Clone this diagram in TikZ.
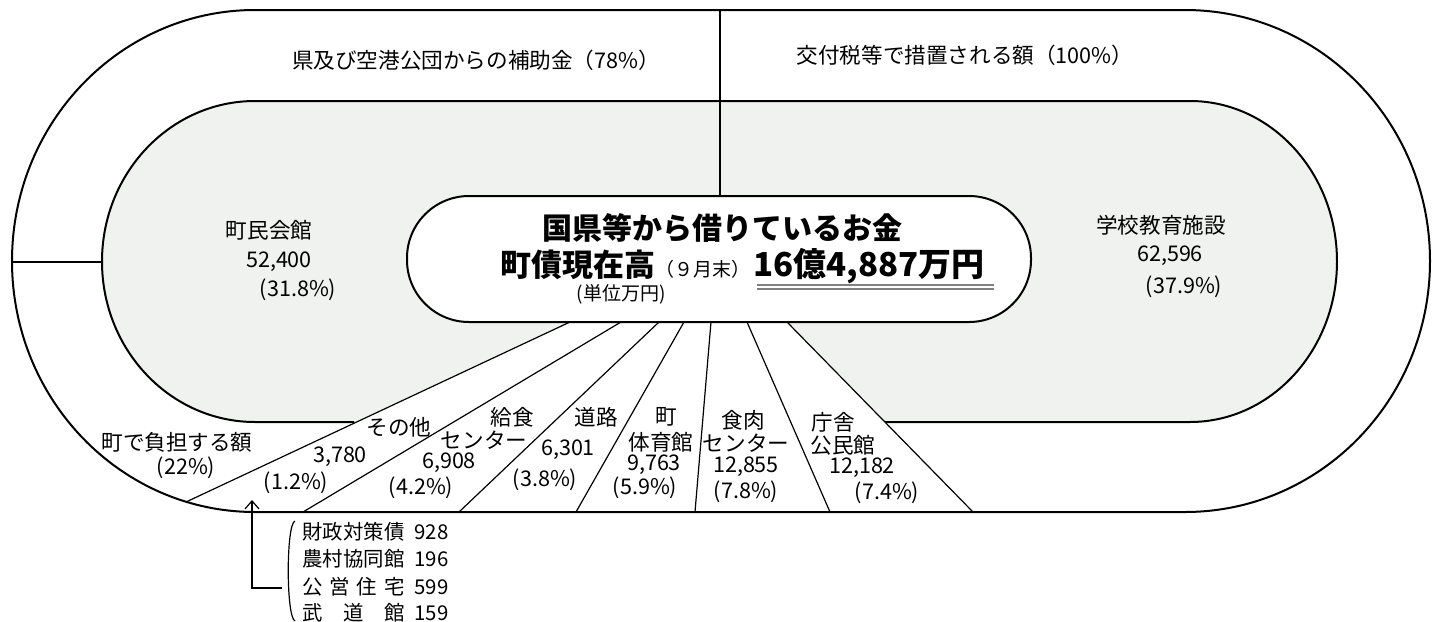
\documentclass[tikz,border=0pt]{standalone}
\usepackage{fontspec}
\setmainfont{Noto Sans CJK JP}
\usetikzlibrary{arrows.meta}
\definecolor{trackgrey}{RGB}{240,242,239}
\tikzset{
    lbl/.style={font=\fontsize{10.8}{13}\selectfont, inner sep=0pt},
    row/.style={font=\fontsize{10.2}{12}\selectfont, inner sep=0pt, anchor=west},
    ring/.style={line width=1pt},
    cut/.style={line width=0.6pt}
}

\begin{document}
\begin{tikzpicture}[x=0.5pt,y=-0.5pt]
    \useasboundingbox (0,0) rectangle (1448,622);
    % shaded inner track
    \fill[trackgrey] (255,101) -- (1190,101) arc[start angle=270,end angle=450,x radius=147,y radius=160.5]
        -- (255,422) arc[start angle=90,end angle=270,x radius=153,y radius=160.5] -- cycle;
    \fill[white] (570,322) -- (186,502) -- (973,512) -- (787,322) -- cycle;
    \draw[ring,fill=white,rounded corners=31pt] (407,196) rectangle (1031,322);
    \draw[ring] (354,422) -- (255,422) arc[start angle=90,end angle=270,x radius=153,y radius=160.5]
        -- (1190,101) arc[start angle=270,end angle=450,x radius=147,y radius=160.5] -- (885,422);
    % outer track
    \draw[ring] (255,10) -- (1185,10) arc[start angle=270,end angle=450,x radius=245,y radius=251]
        -- (255,512) arc[start angle=90,end angle=270,x radius=243,y radius=251] -- cycle;
    \draw[cut] (720,10) -- (720,196);
    \draw[cut] (12,262) -- (102,262);
    \foreach \a/\b/\c in {570/186/502, 621/303/512, 659/459/512, 684/576/512, 711/695/512, 747/830/512, 787/973/512}
    \draw[cut] (\a,322) -- (\b,\c);

    \node[lbl] (K) at (476,60) {県及び空港公団からの補助金（78\%）};
    \node[lbl] (F) at (965,55) {交付税等で措置される額（100\%）};
    \node[font=\fontsize{15}{18}\selectfont\bfseries, inner sep=0pt] (T) at (722,228) {国県等から借りているお金};
    \node[font=\fontsize{15.5}{18}\selectfont\bfseries, inner sep=0pt, anchor=base east] (D)
        at (751,276) {町債現在高{\fontsize{9.5}{12}\selectfont\mdseries （９月末）}};
    \node[font=\fontsize{16.5}{18}\selectfont\bfseries, inner sep=0pt, anchor=base west] (A) at (753,276) {16億4,887万円};
    \node[font=\fontsize{9.5}{12}\selectfont, inner sep=0pt] (U) at (621,294) {(単位万円)};
    \draw[cut,gray] (757,285) -- (994,285);
    \draw[cut,gray] (757,289) -- (994,289);

    \foreach \x/\y/\t [count=\i] in {
        269/230/町民会館, 279/262/{52,400}, 298/290/(31.8\%),
        1161/225/学校教育施設, 1170/256/{62,596}, 1184/287/(37.9\%),
        177/442/町で負担する額, 186/468/(22\%),
        399/427/その他, 340/457/{3,780}, 296/483/(1.2\%),
        512/417/給食, 484/440/センター, 449/463/{6,908}, 421/488/(4.2\%),
        596/417/道路, 568/450/{6,301}, 545/480/(3.8\%),
        666/417/町, 661/442/体育館, 654/465/{9,763}, 645/488/(5.9\%),
        743/420/食肉, 746/443/センター, 746/467/{12,855}, 746/492/(7.8\%),
        833/422/庁舎, 843/445/公民館, 862/468/{12,182}, 887/493/(7.4\%)}
    \node[lbl] (L\i) at (\x,\y) {\t};

    % breakdown of the other
    \draw[cut] (295,521) .. controls (286,524) and (286,617) .. (295,621);
    \foreach \y/\t/\n [count=\i] in {
        532/{財政対策債}/928, 559/{農村協同館}/196,
        587/{\makebox[5em][s]{公\hfill 営\hfill 住\hfill 宅}}/599,
        613/{\makebox[5em][s]{武\hfill 道\hfill 館}}/159}
    \node[row] (R\i) at (302,\y) {\makebox[5em][l]{\t}\hspace{5pt}\n};
    \coordinate (tip) at (252,500);
    \coordinate (tail) at (282,588);
    \draw[cut,-{Straight Barb[length=4pt,width=7pt]}] (tail) -| (tip);
\end{tikzpicture}
\end{document}
